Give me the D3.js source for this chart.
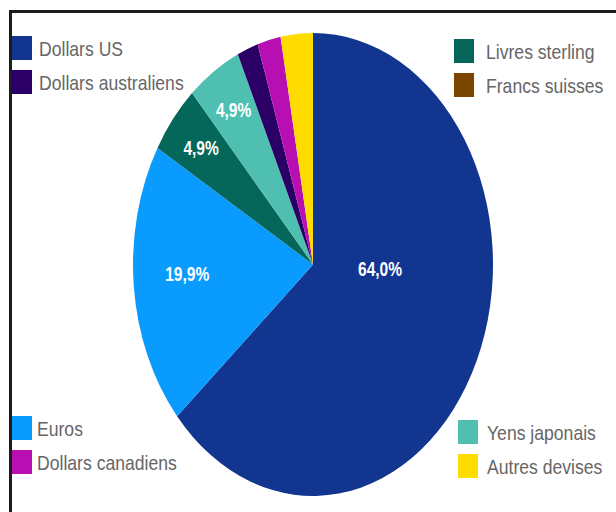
<!DOCTYPE html>
<html>
<head>
<meta charset="utf-8">
<script src="https://cdn.jsdelivr.net/npm/d3@7"></script>
<style>
  body { margin: 0; background: #fff; }
  svg { display: block; }
</style>
</head>
<body>
<div id="chart"></div>
<script>
// parts des devises (sens horaire depuis midi)
var currencies = ["Dollars US", "Euros", "Livres sterling", "Yens japonais",
                  "Dollars australiens", "Dollars canadiens", "Francs suisses", "Autres devises"];
var shares = [64.0, 19.9, 4.9, 4.9, 1.9, 2.1, 0.0, 2.9];
var colors = ["#12358f", "#0a9bff", "#05675a", "#4fbfb1",
              "#2b0066", "#b80fb3", "#7a4600", "#ffdc00"];

// legend, one block per corner
var legendTopLeft = ["Dollars US", "Dollars australiens"];
var legendTopRight = ["Livres sterling", "Francs suisses"];
var legendBottomLeft = ["Euros", "Dollars canadiens"];
var legendBottomRight = ["Yens japonais", "Autres devises"];

var width = 616, height = 512;
var cx = 313, cy = 264.5, R = 231.5;
var squish = 180 / R;   // the original picture is squeezed horizontally

var data = currencies.map(function(c, i) { return { name: c, value: shares[i] }; });
var color = d3.scaleOrdinal().domain(currencies).range(colors);

var svg = d3.select("#chart").append("svg")
  .attr("width", width)
  .attr("height", height);

// frame (only top and left edges are visible)
svg.append("path")
  .attr("d", "M10.5,512V11.5H616")
  .attr("fill", "none")
  .attr("stroke", "#1c1c1c")
  .attr("stroke-width", 3);

var pie = d3.pie().value(function(d) { return d.value; }).sort(null);
var arc = d3.arc().innerRadius(0).outerRadius(R);

var g = svg.append("g")
  .attr("transform", "translate(" + cx + "," + cy + ") scale(" + squish + ",1)");

var arcs = pie(data);

g.selectAll("path.slice")
  .data(arcs)
  .enter()
  .append("path")
  .attr("class", "slice")
  .attr("d", arc)
  .attr("fill", function(d) { return color(d.data.name); });

var fmt = function(v) { return d3.format(".1f")(v).replace(".", ",") + "%"; };

function labelPos(d) {
  var span = d.endAngle - d.startAngle;
  if (d.data.value > 50) {
    return d3.pointRadial(d.startAngle + span * 0.406, R * 0.373);
  }
  if (d.data.value > 10) {
    return d3.pointRadial(d.startAngle + span * 0.53, R * 0.7);
  }
  return d3.pointRadial((d.startAngle + d.endAngle) / 2, R * 0.8);
}

g.selectAll("text.pct")
  .data(arcs.filter(function(d) { return d.data.value >= 4.5; }))
  .enter()
  .append("text")
  .attr("class", "pct")
  .attr("transform", function(d) {
    var p = labelPos(d);
    return "translate(" + p[0] + "," + p[1] + ")";
  })
  .attr("text-anchor", "middle")
  .attr("dy", "0.36em")
  .attr("fill", "#fff")
  .attr("font-family", "Liberation Sans, Arial, sans-serif")
  .attr("font-weight", "bold")
  .attr("font-size", 20)
  .text(function(d) { return fmt(d.data.value); });

// legends
function legend(names, x, y, textX) {
  var lg = svg.append("g").attr("transform", "translate(" + x + "," + y + ")");
  var item = lg.selectAll("g")
    .data(names)
    .enter()
    .append("g")
    .attr("transform", function(d, i) { return "translate(0," + (i * 34) + ")"; });
  item.append("rect")
    .attr("width", 20)
    .attr("height", 24)
    .attr("fill", function(d) { return color(d); });
  item.append("text")
    .attr("transform", "translate(" + textX + ",20) scale(0.88,1)")
    .attr("fill", "#666")
    .attr("font-family", "Liberation Sans, Arial, sans-serif")
    .attr("font-size", 20)
    .text(function(d) { return d; });
}

legend(legendTopLeft, 12, 36, 27);
legend(legendTopRight, 454, 39, 32);
legend(legendBottomLeft, 12, 416, 25);
legend(legendBottomRight, 458, 420, 29);
</script>
</body>
</html>
